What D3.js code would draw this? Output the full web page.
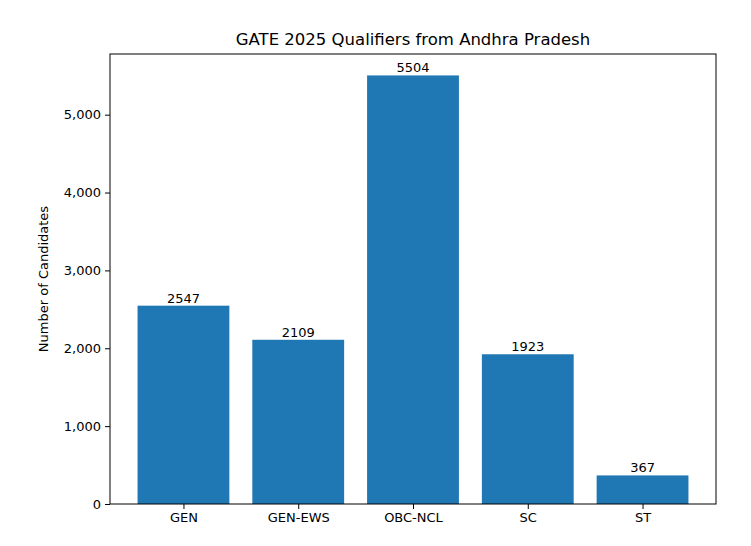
<!DOCTYPE html>
<html>
<head>
<meta charset="utf-8">
<script src="https://cdn.jsdelivr.net/npm/d3@7"></script>
<style>
  body { margin: 0; background: #fff; }
  text { font-family: "DejaVu Sans", sans-serif; fill: #000; }
</style>
</head>
<body>
<svg id="chart" width="751" height="546"></svg>
<script>
const categories = ['GEN', 'GEN-EWS', 'OBC-NCL', 'SC', 'ST'];
const counts = [2547, 2109, 5504, 1923, 367];
const yTicks = [0, 1000, 2000, 3000, 4000, 5000];

const margin = { top: 54, right: 35, bottom: 42, left: 110 };
const width = 751, height = 546;
const svg = d3.select('#chart');

const x = d3.scaleLinear()
  .domain([-0.64, categories.length - 1 + 0.64])
  .range([margin.left, width - margin.right]);
const y = d3.scaleLinear()
  .domain([0, d3.max(counts) * 1.05])
  .range([height - margin.bottom, margin.top]);
const barW = x(0.8) - x(0);

svg.selectAll('.bar')
  .data(counts)
  .enter().append('rect')
  .attr('class', 'bar')
  .attr('x', (d, i) => x(i) - barW / 2)
  .attr('y', d => y(d))
  .attr('width', barW)
  .attr('height', d => y(0) - y(d))
  .attr('fill', '#1f77b4');

svg.selectAll('.lbl')
  .data(counts)
  .enter().append('text')
  .attr('class', 'lbl')
  .attr('x', (d, i) => x(i))
  .attr('y', d => y(d) - 3)
  .attr('text-anchor', 'middle')
  .style('font-size', '13px')
  .text(d => d);

const xAxis = svg.append('g')
  .attr('transform', `translate(0,${height - margin.bottom})`)
  .call(d3.axisBottom(x).tickValues(d3.range(categories.length))
    .tickFormat(i => categories[i]).tickSize(5).tickPadding(4));
const yAxis = svg.append('g')
  .attr('transform', `translate(${margin.left},0)`)
  .call(d3.axisLeft(y).tickValues(yTicks).tickSize(5).tickPadding(4));

[xAxis, yAxis].forEach(g => {
  g.select('.domain').remove();
  g.selectAll('text').style('font-size', '13px').style('font-family', '"DejaVu Sans", sans-serif');
  g.selectAll('line').attr('stroke', '#000');
});

svg.append('rect')
  .attr('x', margin.left).attr('y', margin.top)
  .attr('width', width - margin.left - margin.right)
  .attr('height', height - margin.top - margin.bottom)
  .attr('fill', 'none').attr('stroke', '#000').attr('stroke-width', 1);

svg.append('text')
  .attr('x', (margin.left + width - margin.right) / 2)
  .attr('y', margin.top - 9)
  .attr('text-anchor', 'middle')
  .style('font-size', '16.5px')
  .text('GATE 2025 Qualifiers from Andhra Pradesh');

svg.append('text')
  .attr('transform', `translate(48,${(margin.top + height - margin.bottom) / 2}) rotate(-90)`)
  .attr('text-anchor', 'middle')
  .style('font-size', '13px')
  .text('Number of Candidates');
</script>
</body>
</html>
